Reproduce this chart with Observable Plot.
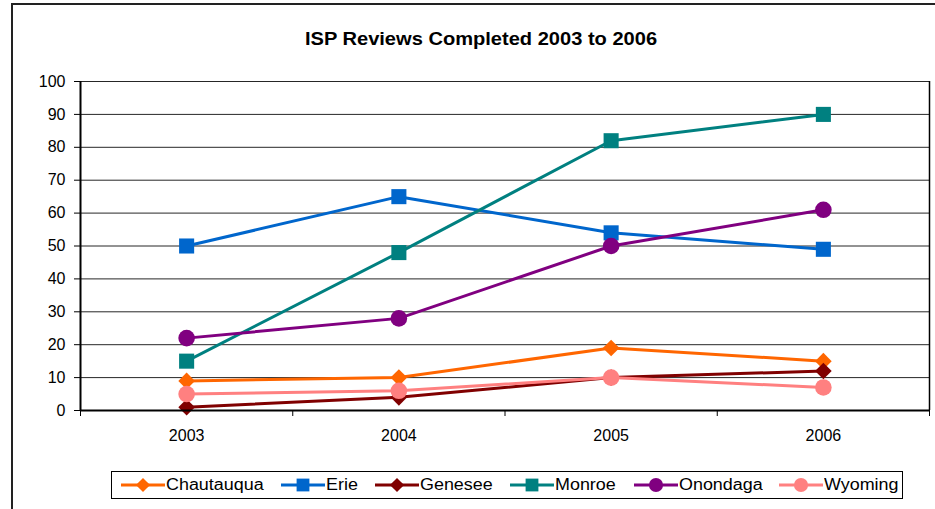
<!DOCTYPE html>
<html>
<head>
<meta charset="utf-8">
<script src="https://cdn.jsdelivr.net/npm/d3@7"></script>
<script src="https://cdn.jsdelivr.net/npm/@observablehq/plot@0.6"></script>
<style>
  html, body { margin: 0; padding: 0; background: #fff; }
  body { width: 935px; height: 509px; overflow: hidden; position: relative; font-family: "Liberation Sans", Arial, sans-serif; }
  #frame { position: absolute; left: 11px; top: 3px; width: 1000px; height: 1000px; border: 2px solid #222; box-sizing: border-box; }
  #title { position: absolute; left: 0; width: 962px; top: 29px; text-align: center; font-weight: bold; font-size: 18px; color: #000; transform: scaleX(1.115); transform-origin: 481px 0; }
  #chart { position: absolute; left: 0; top: 0; }
  #legend { position: absolute; left: 111px; top: 471px; width: 792px; height: 28px; border: 1px solid #000; box-sizing: border-box; }
  .item { position: absolute; top: 3px; height: 20px; display: flex; align-items: center; font-size: 16px; color: #000; white-space: nowrap; }
  .item svg { display: block; }
  .item span { display: inline-block; transform: scaleX(1.12); transform-origin: 0 50%; }
</style>
</head>
<body>
<div id="frame"></div>
<div id="title">ISP Reviews Completed 2003 to 2006</div>
<div id="chart"></div>
<div id="legend"></div>
<script>
const years = [2003, 2004, 2005, 2006];
const seriesNames = ["Chautauqua", "Erie", "Genesee", "Monroe", "Onondaga", "Wyoming"];
const chautauqua = [9, 10, 19, 15];
const erie = [50, 65, 54, 49];
const genesee = [1, 4, 10, 12];
const monroe = [15, 48, 82, 90];
const onondaga = [22, 28, 50, 61];
const wyoming = [5, 6, 10, 7];
const yTicks = [0, 10, 20, 30, 40, 50, 60, 70, 80, 90, 100];
const colors = ["#FF6600", "#0066CC", "#800000", "#008080", "#800080", "#FF8080"];
const symbols = ["diamond2", "square", "diamond2", "square", "circle", "circle"];
const radii = {diamond2: 7.5, square: 8.5, circle: 8.3};

const values = [chautauqua, erie, genesee, monroe, onondaga, wyoming];
const rows = [];
seriesNames.forEach((s, i) => years.forEach((y, j) => rows.push({series: s, year: y, value: values[i][j]})));

// category band boundaries for x
const bounds = [years[0] - 0.5, ...years.map(y => y + 0.5)];
const xDomain = [bounds[0], bounds[bounds.length - 1]];

const marks = [
  Plot.gridY(yTicks, {stroke: "#000", strokeOpacity: 0.85, strokeWidth: 1}),
  Plot.ruleX([xDomain[1]], {y1: 0, y2: 100, stroke: "#000", strokeWidth: 1.5}),
  Plot.axisY({ticks: yTicks, tickSize: 6, tickPadding: 9, fontSize: 16, tickFormat: d => String(d), label: null}),
  Plot.axisX({ticks: bounds, tickSize: 6, tickFormat: () => "", label: null}),
  Plot.axisX({ticks: years, tickSize: 0, tickPadding: 19, fontSize: 16, tickFormat: d => String(d), label: null}),
];
seriesNames.forEach((s, i) => {
  const data = rows.filter(r => r.series === s);
  marks.push(Plot.line(data, {x: "year", y: "value", stroke: colors[i], strokeWidth: 3}));
  marks.push(Plot.dot(data, {x: "year", y: "value", fill: colors[i], stroke: "none", symbol: symbols[i], r: radii[symbols[i]]}));
});
marks.push(Plot.ruleX([xDomain[0]], {y1: 0, y2: 100, stroke: "#000", strokeWidth: 2}));
marks.push(Plot.ruleY([0], {stroke: "#000", strokeWidth: 2}));

const chart = Plot.plot({
  width: 935,
  height: 460,
  marginLeft: 80,
  marginRight: 6,
  marginTop: 81,
  marginBottom: 50,
  x: {type: "linear", domain: xDomain},
  y: {domain: [0, 100]},
  style: {fontFamily: "'Liberation Sans', Arial, sans-serif", fontSize: "16px", color: "#000", background: "transparent", overflow: "visible"},
  marks
});
document.getElementById("chart").appendChild(chart);

// legend
const legend = document.getElementById("legend");
const itemLeft = [8, 168, 262, 397, 521, 666];
seriesNames.forEach((s, i) => {
  const item = document.createElement("div");
  item.className = "item";
  item.style.left = itemLeft[i] + "px";
  const sw = d3.create("svg").attr("width", 46).attr("height", 20);
  sw.append("line").attr("x1", 1).attr("x2", 45).attr("y1", 10).attr("y2", 10).attr("stroke", colors[i]).attr("stroke-width", 3);
  const sym = {diamond2: d3.symbolDiamond2, square: d3.symbolSquare, circle: d3.symbolCircle}[symbols[i]];
  const r = radii[symbols[i]] * 0.85;
  sw.append("path").attr("d", d3.symbol(sym, Math.PI * r * r)()).attr("transform", "translate(23,10)").attr("fill", colors[i]);
  item.appendChild(sw.node());
  const t = document.createElement("span");
  t.textContent = s;
  item.appendChild(t);
  legend.appendChild(item);
});
</script>
</body>
</html>
